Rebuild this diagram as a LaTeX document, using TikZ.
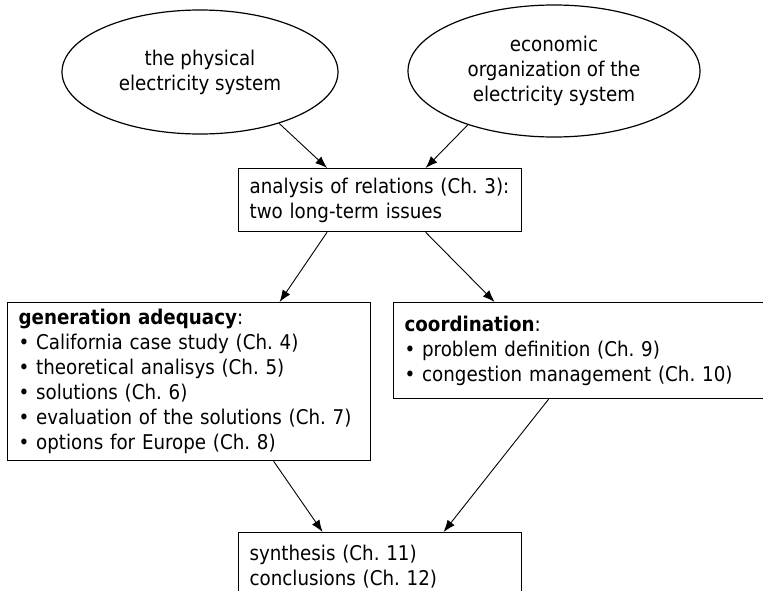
\documentclass[tikz,border=0pt]{standalone}
\usepackage{fontspec}
\setmainfont{DejaVu Sans Condensed}[BoldFont={DejaVu Sans Condensed Bold}]
\usetikzlibrary{shapes.geometric,arrows.meta}
\frenchspacing

\begin{document}
\begin{tikzpicture}
    [
    x=1pt, y=-1pt,
    every node/.style={font=\fontsize{20.3pt}{25pt}\selectfont},
    topic/.style={ellipse,draw,line width=1.2pt,inner sep=0pt,align=center},
    chapbox/.style={rectangle,draw,line width=1.2pt,anchor=north west,inner xsep=11pt,inner ysep=0pt,align=left},
    link/.style={-{Latex[length=12pt,width=9pt]},line width=0.9pt}
    ]
    \useasboundingbox (0,0) rectangle (763,590);
    \node (phys) at (200,72) [topic, minimum width=276pt, minimum height=124pt] {the physical\\electricity system};
    \node (econ) at (554,71) [topic, minimum width=292pt, minimum height=132pt] {economic\\organization of the\\electricity system};
    \node (rel) at (238,168) [chapbox, text width=261pt, minimum height=63pt] {analysis of relations (Ch. 3):\\two long-term issues};
    \node (gen) at (7,302) [chapbox, text width=341pt, minimum height=158pt] {\textbf{generation adequacy}:\\
      \textbullet{} California case study (Ch. 4)\\
      \textbullet{} theoretical analisys (Ch. 5)\\
      \textbullet{} solutions (Ch. 6)\\
      \textbullet{} evaluation of the solutions (Ch. 7)\\
      \textbullet{} options for Europe (Ch. 8)};
    \node (coord) at (393,302) [chapbox, text width=378pt, minimum height=96pt] {\textbf{coordination}:\\
      \textbullet{} problem definition (Ch. 9)\\
      \textbullet{} congestion management (Ch. 10)};
    \node (synth) at (238,532) [chapbox, text width=261pt, minimum height=68pt] {synthesis (Ch. 11)\\conclusions (Ch. 12)};
    % top part
    \draw [link] (phys.-33) to ([xshift=-53pt]rel.north);
    \draw [link] (econ.-148) to ([xshift=45.5pt]rel.north);
    % the two issues
    \draw [link] ([xshift=-53pt]rel.south) to ([xshift=90.5pt]gen.north);
    \draw [link] ([xshift=45.5pt]rel.south) to ([xshift=-99pt]coord.north);
    % to the synthesis
    \draw [link] ([xshift=84.5pt]gen.south) to ([xshift=-57.5pt]synth.north);
    \draw [link] ([xshift=-45pt]coord.south) to ([xshift=63.5pt]synth.north);
\end{tikzpicture}
\end{document}
